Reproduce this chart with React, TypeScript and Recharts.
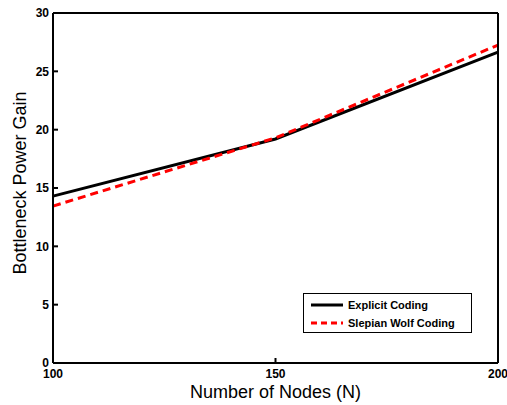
import React from "react";
import { LineChart, Line, XAxis, YAxis, Label } from "recharts";

const nodes = [100, 150, 200];
const explicitCoding = [14.3, 19.2, 26.65];
const slepianWolfCoding = [13.45, 19.3, 27.25];
const yTicks = [0, 5, 10, 15, 20, 25, 30];
const xTicks = [100, 150, 200];
const seriesNames = ["Explicit Coding", "Slepian Wolf Coding"];

const data = nodes.map((n, i) => ({
  n,
  explicit: explicitCoding[i],
  slepian: slepianWolfCoding[i],
}));

const tickFont = { fontFamily: "Liberation Sans, Arial, sans-serif", fontSize: 12, fontWeight: 700, fill: "#000" };
const labelFont = { fontFamily: "Liberation Sans, Arial, sans-serif", fontSize: 18, fill: "#000" };

const LegendBox = () => (
  <div
    style={{
      position: "absolute",
      left: 303,
      top: 293,
      border: "1.5px solid #000",
      background: "#fff",
      width: 169,
      height: 40,
      boxSizing: "border-box",
      fontFamily: "Liberation Sans, Arial, sans-serif",
      fontSize: 11,
      fontWeight: 700,
      padding: "2px 0 0 6px",
    }}
  >
    {[
      { name: seriesNames[0], color: "#000", dash: undefined },
      { name: seriesNames[1], color: "#ff0000", dash: "6 4" },
    ].map((it) => (
      <div key={it.name} style={{ display: "flex", alignItems: "center", height: 18 }}>
        <svg width={34} height={6} style={{ marginRight: 4 }}>
          <line x1={1} y1={3} x2={33} y2={3} stroke={it.color} strokeWidth={3} strokeDasharray={it.dash} />
        </svg>
        <span>{it.name}</span>
      </div>
    ))}
  </div>
);

export default function App() {
  return (
    <div style={{ position: "absolute", left: 0, top: 0, width: 507, height: 405, background: "#fff" }}>
      <LineChart width={507} height={405} data={data} margin={{ top: 12, right: 8, left: 0, bottom: 0 }}>
        <XAxis
          xAxisId="b"
          dataKey="n"
          type="number"
          domain={[100, 200]}
          ticks={xTicks}
          height={42}
          stroke="#000"
          strokeWidth={2}
          tickSize={-5}
          tickMargin={11}
          tick={tickFont}
          interval={0}
        >
          <Label value="Number of Nodes (N)" position="center" dy={8} style={labelFont} />
        </XAxis>
        <XAxis
          xAxisId="t"
          orientation="top"
          dataKey="n"
          type="number"
          domain={[100, 200]}
          ticks={xTicks}
          height={1}
          stroke="#000"
          strokeWidth={2}
          tickSize={-5}
          tick={false}
        />
        <YAxis
          yAxisId="l"
          domain={[0, 30]}
          ticks={yTicks}
          width={53}
          stroke="#000"
          strokeWidth={2}
          tickSize={-5}
          tickMargin={9}
          tick={tickFont}
          interval={0}
        >
          <Label value="Bottleneck Power Gain" angle={-90} position="center" dx={-7} dy={-5} style={labelFont} />
        </YAxis>
        <YAxis
          yAxisId="r"
          orientation="right"
          domain={[0, 30]}
          ticks={yTicks}
          width={1}
          stroke="#000"
          strokeWidth={2}
          tickSize={-5}
          tick={false}
        />
        <Line
          xAxisId="b"
          yAxisId="l"
          type="linear"
          dataKey="explicit"
          name={seriesNames[0]}
          stroke="#000"
          strokeWidth={3}
          dot={false}
          isAnimationActive={false}
        />
        <Line
          xAxisId="b"
          yAxisId="l"
          type="linear"
          dataKey="slepian"
          name={seriesNames[1]}
          stroke="#ff0000"
          strokeWidth={3}
          strokeDasharray="8 5"
          dot={false}
          isAnimationActive={false}
        />
      </LineChart>
      <LegendBox />
    </div>
  );
}
